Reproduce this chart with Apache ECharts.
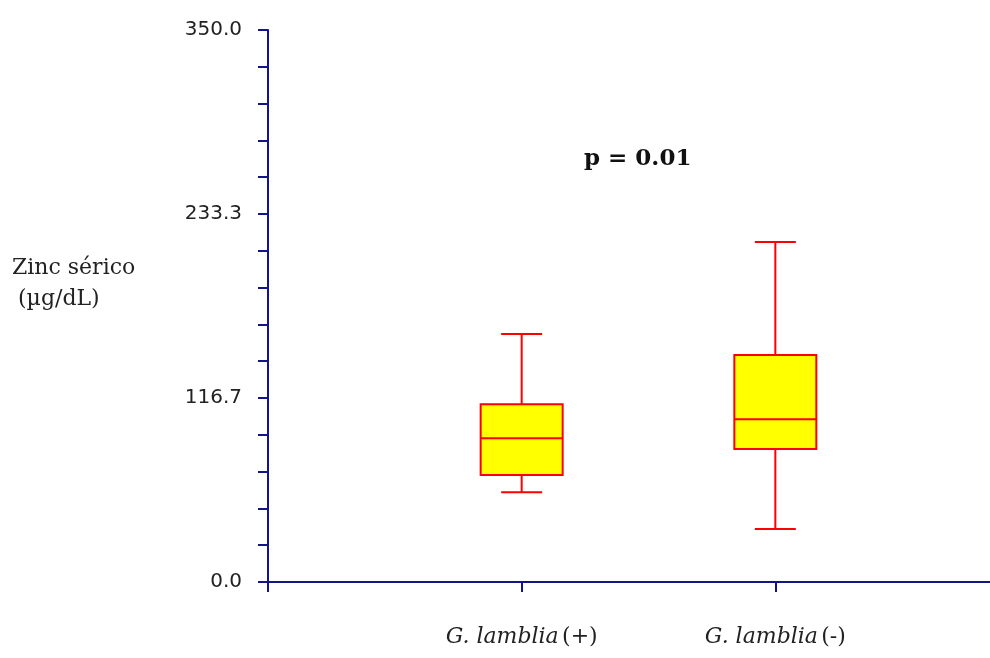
<!DOCTYPE html>
<html>
<head>
<meta charset="utf-8">
<script src="https://cdn.jsdelivr.net/npm/echarts@6/dist/echarts.min.js"></script>
<style>html,body{margin:0;padding:0;background:#fff;overflow:hidden;width:990px;height:658px}#c{width:1032px;height:658px}</style>
</head>
<body>
<div id="c"></div>
<script>
// Categories (empty slots at both ends so the groups sit where the original places them)
var categories = ['', 'G. lamblia (+)', 'G. lamblia (-)', ' '];
var groups = ['G. lamblia (+)', 'G. lamblia (-)'];
// [min, Q1, median, Q3, max] in µg/dL
var giardiaPos = [56.9, 67.8, 91.1, 112.7, 157.2];
var giardiaNeg = [33.6, 84.3, 103.2, 143.9, 215.6];
var yTickLabels = ['0.0', '116.7', '233.3', '350.0'];
var yMin = 0, yMax = 350, yMinorSteps = 15;

var axisColor = '#141489';
var boxW = 82, capW = 41;
var chart = echarts.init(document.getElementById('c'), null, {renderer: 'canvas'});
var yInterval = (yMax - yMin) / yMinorSteps;

function renderBox(params, api) {
  var c = api.value(0);
  var pMin = api.coord([c, api.value(1)]);
  var pQ1 = api.coord([c, api.value(2)]);
  var pMed = api.coord([c, api.value(3)]);
  var pQ3 = api.coord([c, api.value(4)]);
  var pMax = api.coord([c, api.value(5)]);
  var x = pMed[0];
  var ls = {stroke: '#ff0000', lineWidth: 2, fill: null};
  return {
    type: 'group',
    children: [
      {type: 'line', shape: {x1: x, y1: pQ3[1], x2: x, y2: pMax[1]}, style: ls},
      {type: 'line', shape: {x1: x, y1: pQ1[1], x2: x, y2: pMin[1]}, style: ls},
      {type: 'line', shape: {x1: x - capW / 2, y1: pMax[1], x2: x + capW / 2, y2: pMax[1]}, style: ls},
      {type: 'line', shape: {x1: x - capW / 2, y1: pMin[1], x2: x + capW / 2, y2: pMin[1]}, style: ls},
      {type: 'rect', shape: {x: x - boxW / 2, y: pQ3[1], width: boxW, height: pQ1[1] - pQ3[1]},
        style: {fill: '#ffff00', stroke: '#ff0000', lineWidth: 2}},
      {type: 'line', shape: {x1: x - boxW / 2, y1: pMed[1], x2: x + boxW / 2, y2: pMed[1]}, style: ls}
    ]
  };
}

chart.setOption({
  animation: false,
  backgroundColor: '#ffffff',
  dataset: {
    source: [
      [groups[0]].concat(giardiaPos),
      [groups[1]].concat(giardiaNeg)
    ]
  },
  grid: {left: 268, top: 30, right: 0, bottom: 76, containLabel: false},
  xAxis: {
    type: 'category',
    data: categories,
    boundaryGap: false,
    axisLine: {lineStyle: {color: axisColor, width: 2}},
    axisTick: {show: true, length: 10, lineStyle: {color: axisColor, width: 2}, interval: 0},
    splitLine: {show: false},
    axisLabel: {
      interval: 0,
      margin: 44,
      formatter: function (v) {
        if (!v || v === ' ') return '';
        var parts = v.split(' (');
        return '{it|' + parts[0] + '} {n|(' + parts[1] + '}';
      },
      rich: {
        it: {fontFamily: 'DejaVu Serif', fontStyle: 'italic', fontSize: 22, color: '#222'},
        n: {fontFamily: 'DejaVu Serif', fontSize: 22, color: '#222'}
      }
    }
  },
  yAxis: {
    type: 'value',
    min: yMin, max: yMax, interval: yInterval,
    axisLine: {show: true, lineStyle: {color: axisColor, width: 2}},
    axisTick: {show: true, length: 10, lineStyle: {color: axisColor, width: 2}},
    splitLine: {show: false},
    axisLabel: {
      margin: 26,
      fontFamily: 'DejaVu Sans', fontSize: 20, color: '#222',
      formatter: function (v) {
        var k = Math.round(v / yInterval);
        return k % 5 === 0 ? yTickLabels[k / 5] : '';
      }
    }
  },
  series: [{
    type: 'custom',
    renderItem: renderBox,
    encode: {x: 0, y: [1, 2, 3, 4, 5]},
    silent: true
  }],
  graphic: [
    {type: 'text', left: 12, top: 257, style: {text: 'Zinc sérico', font: '22px "DejaVu Serif"', fill: '#222'}},
    {type: 'text', left: 18, top: 288, style: {text: '(µg/dL)', font: '22px "DejaVu Serif"', fill: '#222'}},
    {type: 'text', left: 584, top: 148, style: {text: 'p = 0.01', font: 'bold 23px "DejaVu Serif"', fill: '#111'}}
  ]
});
</script>
</body>
</html>
